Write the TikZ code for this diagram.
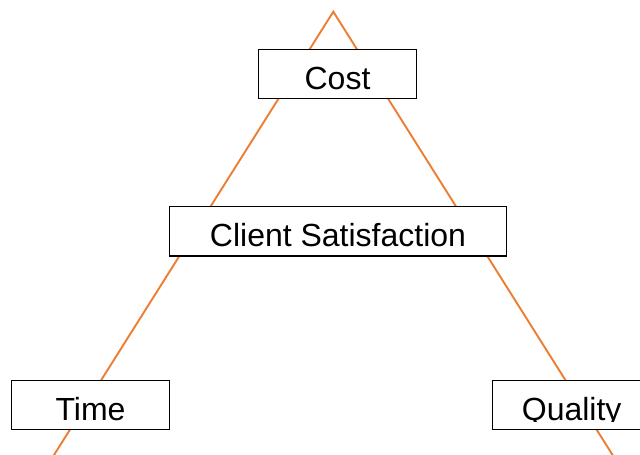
\documentclass[tikz,border=0pt]{standalone}
\usepackage{fontspec}
\setmainfont{Liberation Sans}
\definecolor{sideorange}{RGB}{237,125,49}
\begin{document}
\begin{tikzpicture}[x=1pt,y=1pt,
  edge/.style={draw=sideorange, line width=1.9pt},
  boxnode/.style={draw=black, fill=white, line width=1.1pt, rectangle, inner sep=0pt, minimum height=49.4pt},
  label/.style={anchor=base, inner sep=0pt, font=\fontsize{32}{38}\selectfont}]
\useasboundingbox (0,0) rectangle (640,455);
\clip (0,0) rectangle (640,455);

% triangle sides
\coordinate (apex) at (333.3,443.3);
\coordinate (bl) at (41.4,-20);
\coordinate (br) at (625.2,-20);
\draw[edge] (bl) -- (apex) -- (br);

% boxes
\node[boxnode, minimum width=158.4pt] (cost) at (337.5,381) {};
\node[boxnode, minimum width=337.4pt] (client) at (338,223.7) {};
\node[boxnode, minimum width=157.6pt] (time) at (90.5,50) {};
\node[boxnode, minimum width=158pt] (quality) at (571.7,50) {};

% labels, cut off just under the baseline
\foreach \b/\t in {cost/Cost, client/Client Satisfaction, time/Time, quality/Quality}{
  \begin{scope}
    \clip ([yshift=-1pt]\b.north west) rectangle ([yshift=9.2pt]\b.south east);
    \node[label] (t\b) at ([yshift=10pt]\b.south) {\t};
  \end{scope}
}
\end{tikzpicture}
\end{document}
